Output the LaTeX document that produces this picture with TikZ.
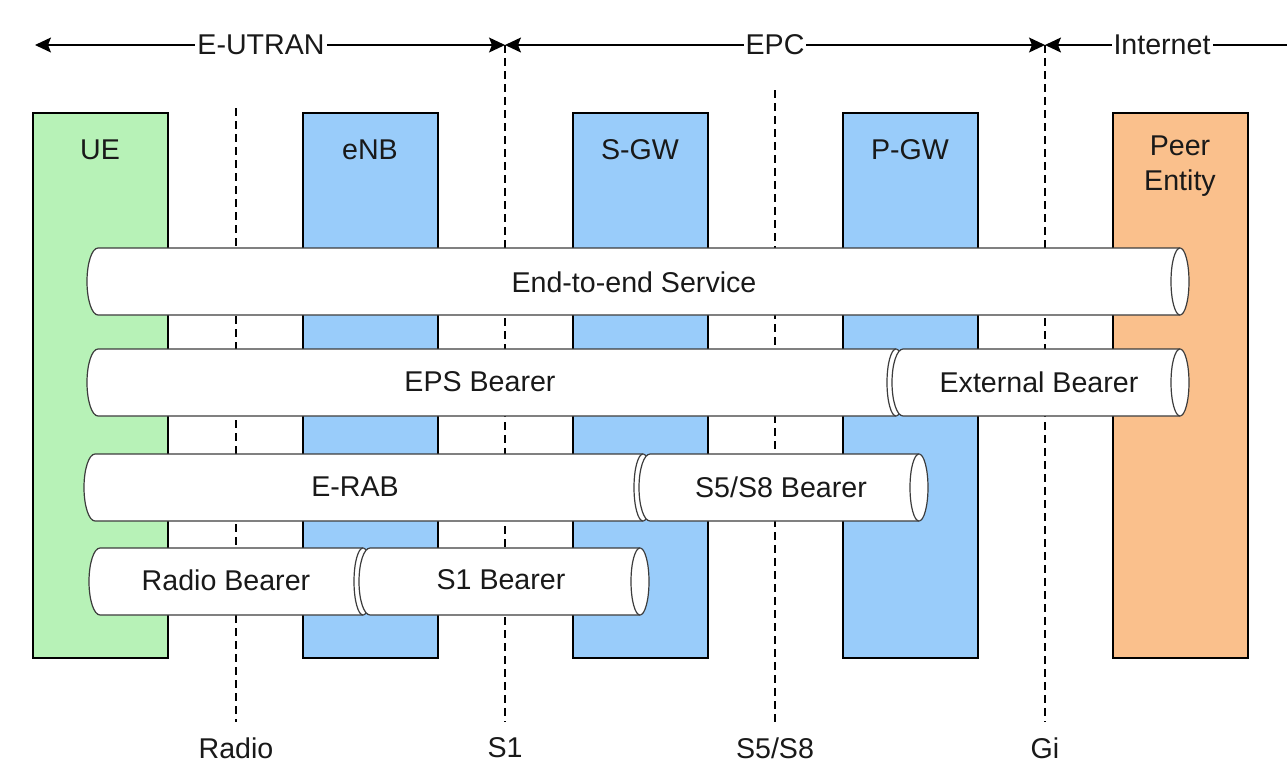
\documentclass[tikz,border=0pt]{standalone}
\usepackage{fontspec}
\setmainfont{Liberation Sans}
\usetikzlibrary{arrows.meta}
\definecolor{uegreen}{RGB}{183,242,183}
\definecolor{nodeblue}{RGB}{153,204,250}
\definecolor{peerorange}{RGB}{250,192,140}
\definecolor{pipeline}{RGB}{60,60,60}
\definecolor{txt}{RGB}{25,25,25}
\newcommand\mypipe[4]{%
  \filldraw[pipestyle] (#1,#3) arc[start angle=90,end angle=270,x radius=5.5pt,y radius={(#4-#3)*0.25pt}]
     -- (#2,#4) arc[start angle=-90,end angle=90,x radius=4.5pt,y radius={(#4-#3)*0.25pt}] -- cycle;
  \draw[pipestyle] (#2,#3) arc[start angle=90,end angle=270,x radius=4.5pt,y radius={(#4-#3)*0.25pt}];
}
\begin{document}
\begin{tikzpicture}[x=0.5pt,y=-0.5pt,
  font=\fontsize{14.3pt}{17.5pt}\selectfont,
  every node/.style={text=txt},
  entity/.style={draw=black,line width=0.8pt,minimum width=67.5pt,minimum height=272.5pt,anchor=north,inner sep=0pt},
  pipestyle/.style={draw=pipeline,fill=white,line width=0.6pt},
  iface/.style={draw=black,line width=0.6pt,dash pattern=on 4pt off 2.5pt},
  span/.style={draw=black,line width=0.6pt},
  tip/.style={-{Stealth[length=8pt,width=7.5pt,inset=1.5pt]}},
  tips/.style={{Stealth[length=8pt,width=7.5pt,inset=1.5pt]}-{Stealth[length=8pt,width=7.5pt,inset=1.5pt]}},
  toplabel/.style={fill=white,inner sep=1pt},
  lbl/.style={inner sep=0pt,align=center}]
\useasboundingbox (0,0) rectangle (1287,767);

% interface lines
\coordinate (radiotop) at (236,108);
\coordinate (radiobot) at (236,722);
\coordinate (s1top) at (505,45);
\coordinate (s1bot) at (505,722);
\coordinate (s5top) at (775,90);
\coordinate (s5bot) at (775,722);
\coordinate (gitop) at (1045,45);
\coordinate (gibot) at (1045,722);
\coordinate (leftend) at (35,45);
\coordinate (rightend) at (1287,45);
\draw[iface] (radiotop) -- (radiobot);
\draw[iface] (s1top) -- (s1bot);
\draw[iface] (s5top) -- (s5bot);
\draw[iface] (gitop) -- (gibot);

% top spans
\draw[span,tips] (leftend) -- (s1top);
\draw[span,tips] (s1top) -- (gitop);
\draw[span,tip] (rightend) -- (gitop);
\node[toplabel] (eutran) at (261,45) {E-UTRAN};
\node[toplabel] (epc) at (775,45) {EPC};
\node[toplabel] (internet) at (1162,45) {Internet};

% entities
\node[entity,fill=uegreen] (ue) at (100.5,112) {};
\node[entity,fill=nodeblue] (enb) at (370.5,112) {};
\node[entity,fill=nodeblue] (sgw) at (640.5,112) {};
\node[entity,fill=nodeblue] (pgw) at (910.5,112) {};
\node[entity,fill=peerorange] (peer) at (1180.5,112) {};
\node[lbl] (uelbl) at (100,150) {UE};
\node[lbl] (enblbl) at (370,150) {eNB};
\node[lbl] (sgwlbl) at (640,150) {S-GW};
\node[lbl] (pgwlbl) at (910,150) {P-GW};
\node[lbl] (peerlbl) at (1180,166) {Peer\\Entity};

% bearers
\mypipe{98}{1180}{248}{315}
\node[lbl] (e2e) at (634,282) {End-to-end Service};
\mypipe{98}{896}{349}{416}
\node[lbl] (eps) at (480,382) {EPS Bearer};
\mypipe{903}{1180}{349}{416}
\node[lbl] (ext) at (1039,382) {External Bearer};
\mypipe{95}{643}{454}{521}
\node[lbl] (erab) at (355,487) {E-RAB};
\mypipe{650}{919}{454}{521}
\node[lbl] (s5b) at (781,487) {S5/S8 Bearer};
\mypipe{100}{363}{548}{615}
\node[lbl] (rb) at (226,580) {Radio Bearer};
\mypipe{370}{640}{548}{615}
\node[lbl] (s1b) at (501,580) {S1 Bearer};

% interface labels
\node[lbl] (radiolbl) at (236,748) {Radio};
\node[lbl] (s1lbl) at (505,748) {S1};
\node[lbl] (s5lbl) at (775,748) {S5/S8};
\node[lbl] (gilbl) at (1045,748) {Gi};
\end{tikzpicture}
\end{document}
